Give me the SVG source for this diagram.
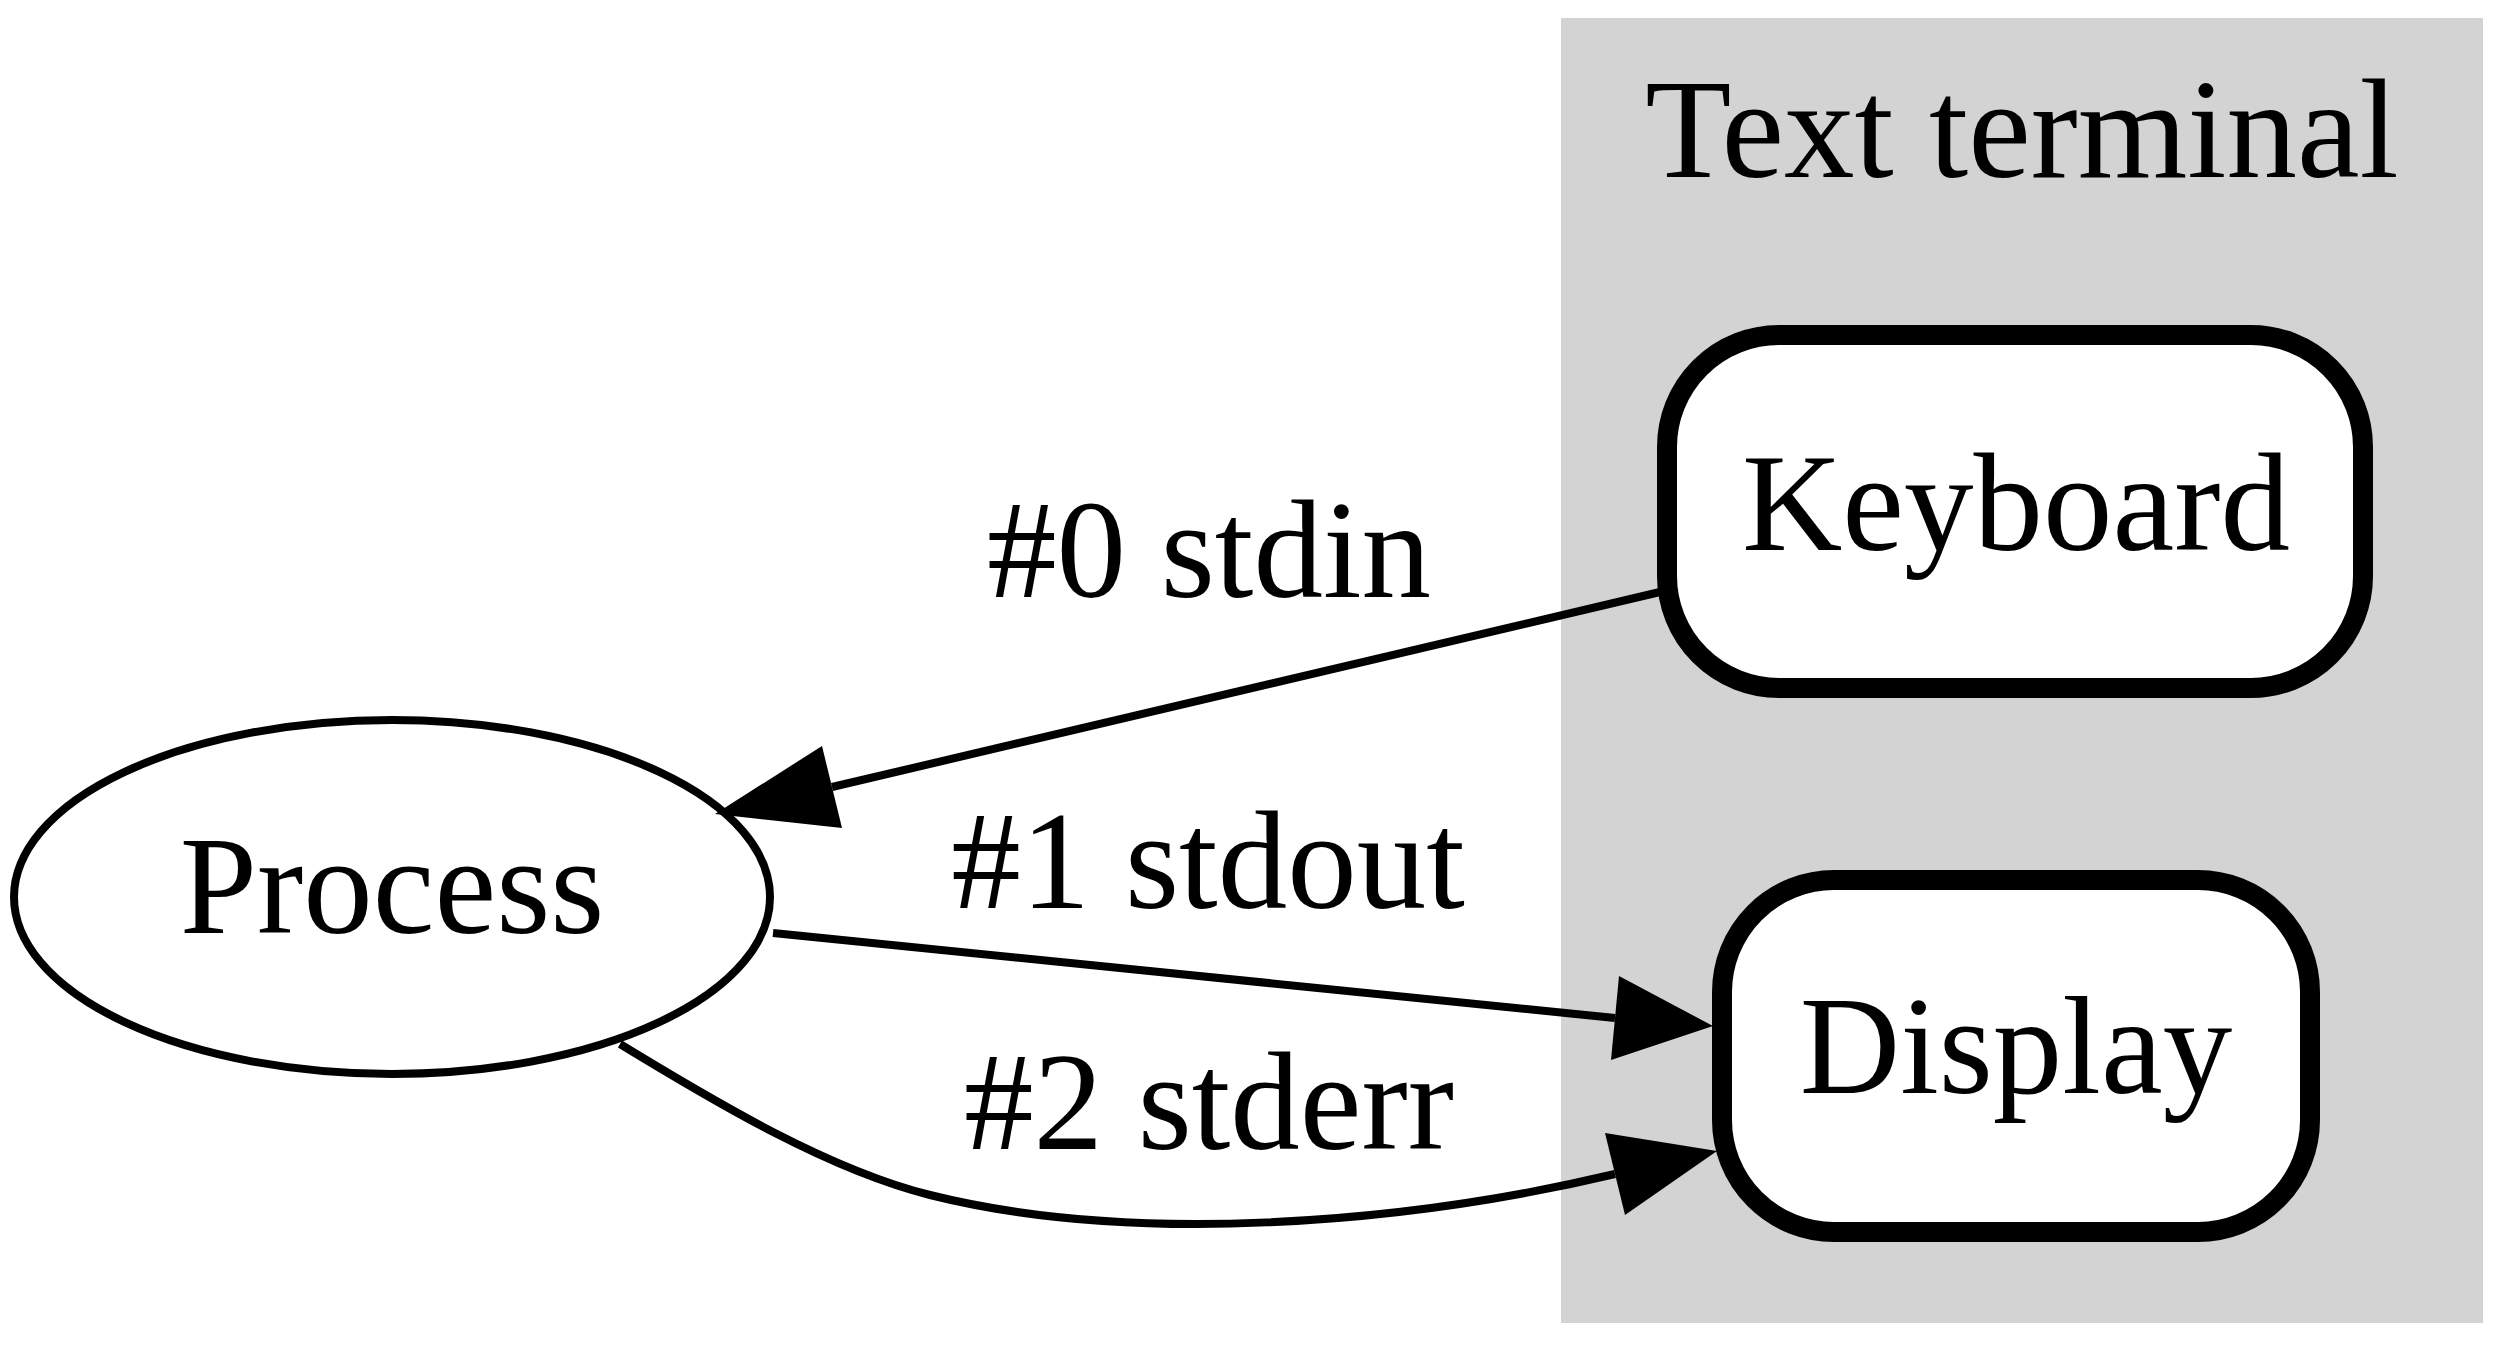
<svg xmlns="http://www.w3.org/2000/svg" width="2497" height="1356" viewBox="0 0 2497 1356">
<style>
text { font-family: "Liberation Serif", "Times New Roman", serif; fill: #000; text-anchor: middle; }
.lbl { font-size: 139px; }
.node { fill: #fff; stroke: #000; }
.edge { fill: none; stroke: #000; stroke-width: 8; }
.head { fill: #000; stroke: none; }
</style>
<rect width="2497" height="1356" fill="#fff"/>
<g id="cluster_terminal">
  <rect x="1561" y="18" width="922" height="1305" fill="#d3d3d3"/>
  <text x="2022" y="177" style="font-size:141px">Text terminal</text>
</g>
<g id="node_process">
  <ellipse class="node" cx="392" cy="897" rx="378" ry="177" stroke-width="8"/>
  <text class="lbl" x="392" y="933">Process</text>
</g>
<g id="node_keyboard">
  <rect class="node" x="1667" y="335" width="696" height="353" rx="112" ry="112" stroke-width="20"/>
  <text class="lbl" x="2016" y="550">Keyboard</text>
</g>
<g id="node_display">
  <rect class="node" x="1722" y="880" width="588" height="352" rx="112" ry="112" stroke-width="20"/>
  <text class="lbl" x="2016" y="1093">Display</text>
</g>
<g id="edges">
  <path class="edge" d="M1660,592 L832,787"/>
  <polygon class="head" points="822,746 715,814 842,828"/>
  <text class="lbl" x="1209" y="597">#0 stdin</text>
  <path class="edge" d="M773,933 L1615,1018"/>
  <polygon class="head" points="1619,976 1713,1026 1611,1060"/>
  <text class="lbl" x="1208" y="908">#1 stdout</text>
  <path class="edge" d="M620,1044 C720,1105 830,1170 930,1195 C1130,1245 1400,1225 1615,1174"/>
  <polygon class="head" points="1605,1133 1717,1151 1625,1215"/>
  <text class="lbl" x="1209" y="1149">#2 stderr</text>
</g>
</svg>
